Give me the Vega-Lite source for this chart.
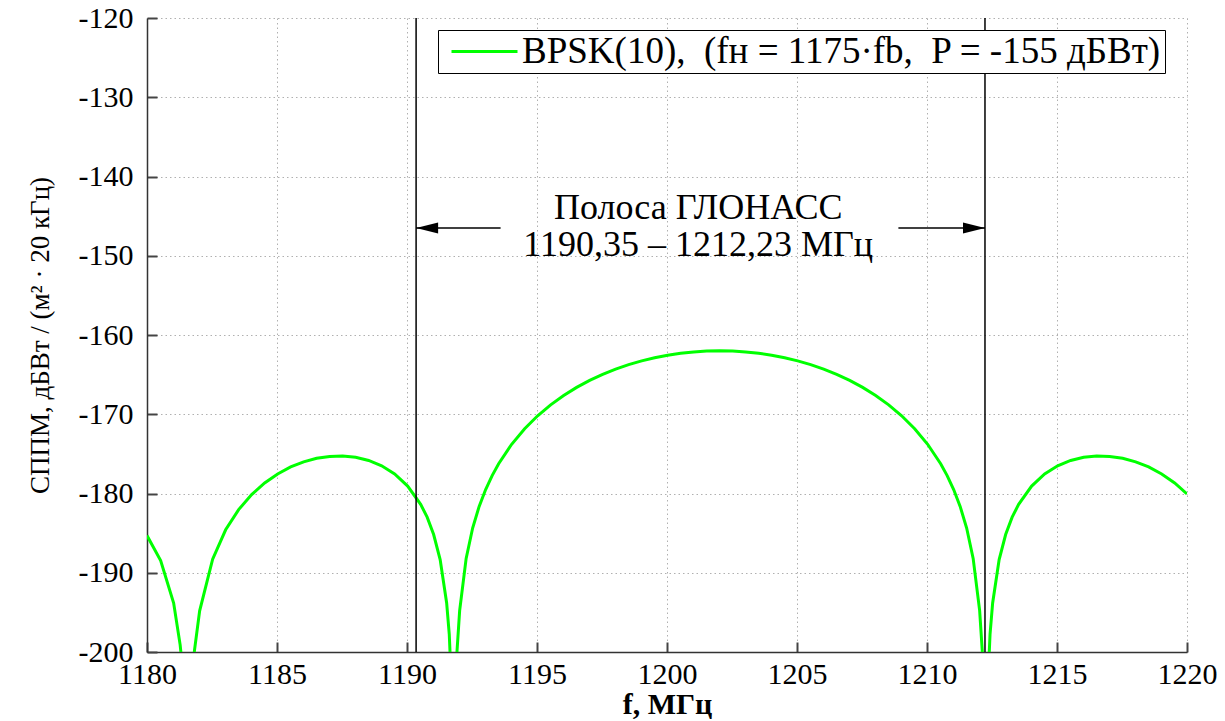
{
  "$schema": "https://vega.github.io/schema/vega-lite/v6.json",
  "autosize": "none",
  "width": 1040,
  "height": 634,
  "padding": {"left": 147, "top": 18, "right": 38, "bottom": 69},
  "background": "white",
  "config": {
    "view": {"stroke": null},
    "axis": {
      "domainColor": "#333333",
      "domainWidth": 1.5,
      "tickColor": "#444444",
      "tickWidth": 2,
      "tickSize": -10,
      "gridColor": "#b0b0b0",
      "gridDash": [1.5, 3],
      "gridWidth": 1,
      "labelFont": "Liberation Serif",
      "labelFontSize": 30,
      "labelColor": "black",
      "labelFlush": false,
      "labelOverlap": false,
      "titleFont": "Liberation Serif",
      "titleColor": "black"
    }
  },
  "datasets": {
    "curve": [
      {"f": 1180.000, "p": -185.30},
      {"f": 1180.525, "p": -188.46},
      {"f": 1181.025, "p": -193.83},
      {"f": 1181.275, "p": -199.10},
      {"f": 1181.325, "p": -200.72},
      {"f": 1181.525, "p": -216.17},
      {"f": 1181.625, "p": -212.65},
      {"f": 1181.775, "p": -201.69},
      {"f": 1181.825, "p": -199.82},
      {"f": 1182.025, "p": -194.80},
      {"f": 1182.525, "p": -188.28},
      {"f": 1183.025, "p": -184.58},
      {"f": 1183.525, "p": -182.03},
      {"f": 1184.025, "p": -180.13},
      {"f": 1184.525, "p": -178.67},
      {"f": 1185.025, "p": -177.53},
      {"f": 1185.525, "p": -176.65},
      {"f": 1186.025, "p": -176.01},
      {"f": 1186.525, "p": -175.56},
      {"f": 1187.025, "p": -175.32},
      {"f": 1187.525, "p": -175.27},
      {"f": 1188.025, "p": -175.43},
      {"f": 1188.525, "p": -175.83},
      {"f": 1189.025, "p": -176.50},
      {"f": 1189.525, "p": -177.53},
      {"f": 1190.025, "p": -179.06},
      {"f": 1190.525, "p": -181.36},
      {"f": 1190.775, "p": -182.99},
      {"f": 1191.025, "p": -185.18},
      {"f": 1191.275, "p": -188.34},
      {"f": 1191.525, "p": -193.81},
      {"f": 1191.625, "p": -197.73},
      {"f": 1191.725, "p": -205.35},
      {"f": 1191.795, "p": -220.00},
      {"f": 1191.875, "p": -204.08},
      {"f": 1191.925, "p": -199.82},
      {"f": 1192.025, "p": -194.78},
      {"f": 1192.275, "p": -188.19},
      {"f": 1192.525, "p": -184.36},
      {"f": 1192.775, "p": -181.63},
      {"f": 1193.025, "p": -179.50},
      {"f": 1193.275, "p": -177.74},
      {"f": 1193.525, "p": -176.24},
      {"f": 1194.025, "p": -173.79},
      {"f": 1194.525, "p": -171.82},
      {"f": 1195.025, "p": -170.19},
      {"f": 1195.525, "p": -168.82},
      {"f": 1196.025, "p": -167.63},
      {"f": 1196.525, "p": -166.61},
      {"f": 1197.025, "p": -165.73},
      {"f": 1197.525, "p": -164.97},
      {"f": 1198.025, "p": -164.31},
      {"f": 1198.525, "p": -163.74},
      {"f": 1199.025, "p": -163.27},
      {"f": 1199.525, "p": -162.87},
      {"f": 1200.025, "p": -162.55},
      {"f": 1200.525, "p": -162.31},
      {"f": 1201.025, "p": -162.14},
      {"f": 1201.525, "p": -162.03},
      {"f": 1202.025, "p": -162.00},
      {"f": 1202.525, "p": -162.03},
      {"f": 1203.025, "p": -162.14},
      {"f": 1203.525, "p": -162.31},
      {"f": 1204.025, "p": -162.55},
      {"f": 1204.525, "p": -162.87},
      {"f": 1205.025, "p": -163.27},
      {"f": 1205.525, "p": -163.74},
      {"f": 1206.025, "p": -164.31},
      {"f": 1206.525, "p": -164.97},
      {"f": 1207.025, "p": -165.73},
      {"f": 1207.525, "p": -166.61},
      {"f": 1208.025, "p": -167.63},
      {"f": 1208.525, "p": -168.82},
      {"f": 1209.025, "p": -170.19},
      {"f": 1209.525, "p": -171.82},
      {"f": 1210.025, "p": -173.79},
      {"f": 1210.525, "p": -176.24},
      {"f": 1210.775, "p": -177.74},
      {"f": 1211.025, "p": -179.50},
      {"f": 1211.275, "p": -181.63},
      {"f": 1211.525, "p": -184.36},
      {"f": 1211.775, "p": -188.19},
      {"f": 1212.025, "p": -194.78},
      {"f": 1212.125, "p": -199.82},
      {"f": 1212.175, "p": -204.08},
      {"f": 1212.255, "p": -220.00},
      {"f": 1212.325, "p": -205.35},
      {"f": 1212.425, "p": -197.73},
      {"f": 1212.525, "p": -193.81},
      {"f": 1212.775, "p": -188.34},
      {"f": 1213.025, "p": -185.18},
      {"f": 1213.275, "p": -182.99},
      {"f": 1213.525, "p": -181.36},
      {"f": 1214.025, "p": -179.06},
      {"f": 1214.525, "p": -177.53},
      {"f": 1215.025, "p": -176.50},
      {"f": 1215.525, "p": -175.83},
      {"f": 1216.025, "p": -175.43},
      {"f": 1216.525, "p": -175.27},
      {"f": 1217.025, "p": -175.32},
      {"f": 1217.525, "p": -175.56},
      {"f": 1218.025, "p": -176.01},
      {"f": 1218.525, "p": -176.65},
      {"f": 1219.025, "p": -177.53},
      {"f": 1219.525, "p": -178.67},
      {"f": 1220.000, "p": -180.06}
    ],
    "bands": [{"f": 1190.35}, {"f": 1212.23}],
    "arrows": [
      {"from": 1190.35, "to": 1193.6, "y": -146.5, "dir": "left"},
      {"from": 1208.9, "to": 1212.23, "y": -146.5, "dir": "right"}
    ],
    "notes": [
      {"f": 1201.2, "y": -145.3, "label": ["Полоса ГЛОНАСС", "1190,35 – 1212,23 МГц"]}
    ]
  },
  "layer": [
    {
      "data": {"name": "curve"},
      "transform": [{"calculate": "'BPSK(10),\u00a0 (fн = 1175·fb,\u00a0 P = -155 дБВт)'", "as": "series"}],
      "mark": {"type": "line", "strokeWidth": 3, "clip": true, "interpolate": "linear"},
      "encoding": {
        "x": {
          "field": "f", "type": "quantitative", "title": "f, МГц",
          "scale": {"domain": [1180, 1220], "nice": false, "zero": false},
          "axis": {
            "values": [1180, 1185, 1190, 1195, 1200, 1205, 1210, 1215, 1220],
            "format": "d",
            "grid": true,
            "labelFont": "Liberation Serif",
            "labelFontSize": 30,
            "labelFlush": false,
            "labelPadding": 17,
            "title": "f, МГц",
            "titleFont": "Liberation Serif",
            "titleFontSize": 30,
            "titleFontWeight": "bold",
            "titlePadding": 0
          }
        },
        "y": {
          "field": "p", "type": "quantitative", "title": "СППМ, дБВт / (м² · 20 кГц)",
          "scale": {"domain": [-200, -120], "nice": false, "zero": false},
          "axis": {
            "values": [-200, -190, -180, -170, -160, -150, -140, -130, -120],
            "labelExpr": "'-' + abs(datum.value)",
            "grid": true,
            "labelFont": "Liberation Serif",
            "labelFontSize": 30,
            "labelFlush": false,
            "labelPadding": 24,
            "title": "СППМ, дБВт / (м² · 20 кГц)",
            "titleFont": "Liberation Serif",
            "titleFontSize": 27,
            "titleFontWeight": "normal",
            "titlePadding": 24
          }
        },
        "color": {
          "field": "series", "type": "nominal",
          "scale": {"range": ["#00ff00"]},
          "legend": {
            "title": null,
            "orient": "none",
            "legendX": 291,
            "legendY": 12,
            "strokeColor": "black",
            "fillColor": "white",
            "padding": 3,
            "symbolType": "M -3 0 L 3 0",
            "symbolSize": 484,
            "symbolStrokeWidth": 3,
            "symbolOffset": 25,
            "labelOffset": 19,
            "labelFont": "Liberation Serif",
            "labelFontSize": 37,
            "labelColor": "black",
            "labelLimit": 1000
          }
        }
      }
    },
    {
      "data": {"name": "bands"},
      "mark": {"type": "rule", "color": "black", "strokeWidth": 1.5},
      "encoding": {
        "x": {"field": "f", "type": "quantitative", "title": "f, МГц", "scale": {"domain": [1180, 1220], "nice": false, "zero": false}}
      }
    },
    {
      "data": {"name": "arrows"},
      "mark": {"type": "rule", "color": "black", "strokeWidth": 1.5},
      "encoding": {
        "x": {"field": "from", "type": "quantitative", "title": "f, МГц", "scale": {"domain": [1180, 1220], "nice": false, "zero": false}},
        "x2": {"field": "to", "title": "f, МГц"},
        "y": {"field": "y", "type": "quantitative", "title": "СППМ, дБВт / (м² · 20 кГц)", "scale": {"domain": [-200, -120], "nice": false, "zero": false}}
      }
    },
    {
      "data": {"name": "arrows"},
      "transform": [{"filter": "datum.dir === 'left'"}],
      "mark": {"type": "point", "shape": "M 0 0 L 2 -0.5 L 2 0.5 Z", "size": 484, "filled": true, "color": "black", "opacity": 1},
      "encoding": {
        "x": {"field": "from", "type": "quantitative", "title": "f, МГц", "scale": {"domain": [1180, 1220], "nice": false, "zero": false}},
        "y": {"field": "y", "type": "quantitative", "title": "СППМ, дБВт / (м² · 20 кГц)", "scale": {"domain": [-200, -120], "nice": false, "zero": false}}
      }
    },
    {
      "data": {"name": "arrows"},
      "transform": [{"filter": "datum.dir === 'right'"}],
      "mark": {"type": "point", "shape": "M 0 0 L -2 -0.5 L -2 0.5 Z", "size": 484, "filled": true, "color": "black", "opacity": 1},
      "encoding": {
        "x": {"field": "to", "type": "quantitative", "title": "f, МГц", "scale": {"domain": [1180, 1220], "nice": false, "zero": false}},
        "y": {"field": "y", "type": "quantitative", "title": "СППМ, дБВт / (м² · 20 кГц)", "scale": {"domain": [-200, -120], "nice": false, "zero": false}}
      }
    },
    {
      "data": {"name": "notes"},
      "mark": {"type": "text", "font": "Liberation Serif", "fontSize": 36, "lineHeight": 37, "color": "black", "align": "center", "baseline": "alphabetic"},
      "encoding": {
        "x": {"field": "f", "type": "quantitative", "title": "f, МГц", "scale": {"domain": [1180, 1220], "nice": false, "zero": false}},
        "y": {"field": "y", "type": "quantitative", "title": "СППМ, дБВт / (м² · 20 кГц)", "scale": {"domain": [-200, -120], "nice": false, "zero": false}},
        "text": {"field": "label"}
      }
    }
  ]
}
